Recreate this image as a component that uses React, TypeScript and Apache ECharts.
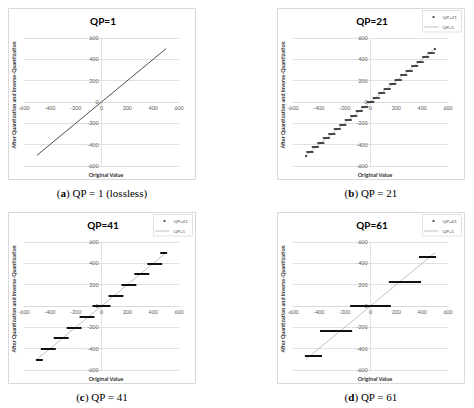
import React, { useEffect, useRef } from 'react';
import * as echarts from 'echarts';

const axisMin = -600;
const axisMax = 600;
const axisStep = 200;

// QP=1 (lossless): output equals input
const losslessX = [-500, 500];
const losslessY = [-500, 500];

// QP=21: reconstruction level and the input range that maps to it
const qp21Level = [-500, -465, -423, -381, -338, -296, -254, -212, -169, -127, -85, -42, 0, 42, 85, 127, 169, 212, 254, 296, 338, 381, 423, 465, 500];
const qp21From = [-500, -491, -448, -406, -363, -321, -278, -236, -193, -151, -108, -66, -23, 23, 66, 108, 151, 193, 236, 278, 321, 363, 406, 448, 497];
const qp21To = [-497, -448, -406, -363, -321, -278, -236, -193, -151, -108, -66, -23, 23, 66, 108, 151, 193, 236, 278, 321, 363, 406, 448, 491, 500];

// QP=41
const qp41Level = [-500, -400, -300, -200, -100, 0, 100, 200, 300, 400, 500];
const qp41From = [-500, -462, -362, -262, -162, -62, 62, 162, 262, 362, 462];
const qp41To = [-462, -362, -262, -162, -62, 62, 162, 262, 362, 462, 500];

// QP=61
const qp61Level = [-464, -232, 0, 232, 464];
const qp61From = [-500, -383, -150, 150, 383];
const qp61To = [-383, -150, 150, 383, 500];

const sans = 'Lato, "Liberation Sans", sans-serif';
const serif = '"Liberation Serif", "DejaVu Serif", serif';

// plot area size; axes cross in the middle (at 0,0)
const gridW = 155;
const gridH = 128;

interface Steps {
  name: string;
  level: number[];
  from: number[];
  to: number[];
  width: number;
}

interface PanelProps {
  left: number;
  top: number;
  dx: number;
  title: string;
  tag: string;
  caption: string;
  steps?: Steps;
}

const Panel: React.FC<PanelProps> = ({ left, top, dx, title, tag, caption, steps }) => {
  const ref = useRef<HTMLDivElement>(null);

  useEffect(() => {
    const chart = echarts.init(ref.current, null, { renderer: 'svg' });

    const series: any[] = [
      {
        type: 'line',
        name: 'QP=1',
        data: losslessX.map((x, i) => [x, losslessY[i]]),
        symbol: 'none',
        silent: true,
        lineStyle: { color: steps ? '#a6a6a6' : '#3a3a3a', width: steps ? 0.7 : 0.9 },
        z: 2,
      },
    ];
    if (steps) {
      series.push({
        type: 'lines',
        name: steps.name,
        coordinateSystem: 'cartesian2d',
        silent: true,
        data: steps.level.map((y, i) => ({ coords: [[steps.from[i], y], [steps.to[i], y]] })),
        lineStyle: { color: '#111', width: steps.width, opacity: 1, cap: 'square' },
        z: 3,
      });
    }

    const graphic: any[] = [
      {
        type: 'rect',
        shape: { x: 8.5 + dx, y: 8.5, width: 187, height: 171 },
        style: { fill: 'none', stroke: '#d9d9d9', lineWidth: 1 },
        silent: true,
        z: -1,
      },
      {
        type: 'text',
        x: 103 + dx,
        y: 21,
        style: {
          text: title,
          fontFamily: sans,
          fontSize: 10,
          fontWeight: 'bold',
          fill: '#000',
          align: 'center',
          verticalAlign: 'middle',
        },
      },
      {
        type: 'text',
        x: 14 + dx,
        y: 95,
        rotation: Math.PI / 2,
        style: {
          text: 'After Quantization and Inverse-Quantization',
          fontFamily: sans,
          fontSize: 5.4,
          fontWeight: 'bold',
          fill: '#333',
          align: 'center',
          verticalAlign: 'middle',
        },
      },
      {
        type: 'text',
        x: 106 + dx,
        y: 174,
        style: {
          text: 'Original Value',
          fontFamily: sans,
          fontSize: 5.6,
          fontWeight: 'bold',
          fill: '#333',
          align: 'center',
          verticalAlign: 'middle',
        },
      },
      {
        type: 'text',
        x: 102 + dx,
        y: 193,
        style: {
          text: '{n|(}{b|' + tag + '}{n|) ' + caption + '}',
          align: 'center',
          verticalAlign: 'middle',
          rich: {
            n: { fontFamily: serif, fontSize: 11, fill: '#000' },
            b: { fontFamily: serif, fontSize: 11, fontWeight: 'bold', fill: '#000' },
          },
        },
      },
    ];

    if (steps) {
      const lx = 153 + dx;
      graphic.push(
        {
          type: 'rect',
          shape: { x: lx + 0.5, y: 10.5, width: 39, height: 21.5 },
          style: { fill: '#fff', stroke: '#d9d9d9', lineWidth: 0.8 },
          silent: true,
          z: 5,
        },
        {
          type: 'rect',
          shape: { x: lx + 10.5, y: 16.3, width: 2, height: 1.4 },
          style: { fill: '#111' },
          silent: true,
          z: 6,
        },
        {
          type: 'text',
          x: lx + 20.5,
          y: 17,
          z: 6,
          style: { text: steps.name, fontFamily: sans, fontSize: 4.6, fill: '#595959', verticalAlign: 'middle' },
        },
        {
          type: 'line',
          shape: { x1: lx + 2, y1: 27, x2: lx + 16.5, y2: 27 },
          style: { stroke: '#a6a6a6', lineWidth: 0.7 },
          silent: true,
          z: 6,
        },
        {
          type: 'text',
          x: lx + 20.5,
          y: 27,
          z: 6,
          style: { text: 'QP=1', fontFamily: sans, fontSize: 4.6, fill: '#595959', verticalAlign: 'middle' },
        },
      );
    }

    const axisLabel = { fontSize: 5.3, color: '#595959', margin: 3, fontFamily: sans };
    const axisLine = { show: true, onZero: false, lineStyle: { color: '#d9d9d9', width: 0.8 } };

    chart.setOption({
      animation: false,
      backgroundColor: '#fff',
      grid: { left: 24 + dx, top: 38, width: gridW, height: gridH, containLabel: false },
      xAxis: {
        type: 'value',
        min: axisMin,
        max: axisMax,
        interval: axisStep,
        offset: -gridH / 2,
        axisLine,
        axisTick: { show: false },
        axisLabel,
        splitLine: { show: false },
      },
      yAxis: {
        type: 'value',
        min: axisMin,
        max: axisMax,
        interval: axisStep,
        offset: -gridW / 2,
        axisLine,
        axisTick: { show: false },
        axisLabel,
        splitLine: { show: true, lineStyle: { color: '#d9d9d9', width: 0.8 } },
      },
      series,
      graphic,
    });

    return () => {
      chart.dispose();
    };
  }, [dx, title, tag, caption, steps]);

  return <div ref={ref} style={{ position: 'absolute', left, top, width: 237, height: 204 }}></div>;
};

const qp21: Steps = { name: 'QP=21', level: qp21Level, from: qp21From, to: qp21To, width: 1.6 };
const qp41: Steps = { name: 'QP=41', level: qp41Level, from: qp41From, to: qp41To, width: 2 };
const qp61: Steps = { name: 'QP=61', level: qp61Level, from: qp61From, to: qp61To, width: 2 };

const App: React.FC = () => {
  return (
    <div style={{ position: 'absolute', left: 0, top: 0, width: 474, height: 408, background: '#fff' }}>
      <Panel left={0} top={0} dx={0} title="QP=1" tag="a" caption="QP = 1 (lossless)" />
      <Panel left={237} top={0} dx={32} title="QP=21" tag="b" caption="QP = 21" steps={qp21} />
      <Panel left={0} top={204} dx={0} title="QP=41" tag="c" caption="QP = 41" steps={qp41} />
      <Panel left={237} top={204} dx={32} title="QP=61" tag="d" caption="QP = 61" steps={qp61} />
    </div>
  );
};

export default App;
